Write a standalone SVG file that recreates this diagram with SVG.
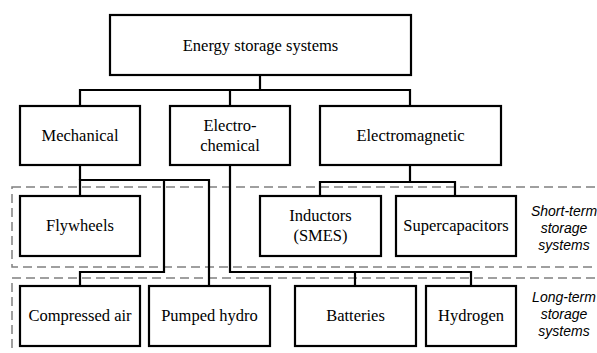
<svg xmlns="http://www.w3.org/2000/svg" width="597" height="353" viewBox="0 0 597 353">
<style>
.box{fill:#fff;stroke:#000;stroke-width:2.2}
.t{font-family:"Liberation Serif","Times New Roman",serif;font-size:16.5px;fill:#000;text-anchor:middle}
.lab{font-family:"Liberation Sans",Arial,sans-serif;font-size:14px;font-style:italic;fill:#000;text-anchor:middle}
.c{fill:none;stroke:#000;stroke-width:2.2}
.dash{fill:none;stroke:#808080;stroke-width:1.5;stroke-dasharray:9 5}
</style>
<rect width="597" height="353" fill="#fff"/>
<g id="regions">
<rect class="dash" x="12" y="187" width="600" height="80"/>
<rect class="dash" x="12" y="278" width="600" height="100"/>
</g>
<g id="connectors">
<path class="c" d="M260 75V90" stroke-width="3"/>
<path class="c" d="M80 106V90H410V106M230 90V106"/>
<path class="c" d="M80 165V180" stroke-width="3"/>
<path class="c" d="M80 196V180H209V286M164 180V272H80V286"/>
<path class="c" d="M230 165V272H471V286M355 272V286"/>
<path class="c" d="M410 165V182M320 196V182H455V196"/>
</g>
<g id="root"><rect class="box" x="110" y="15" width="301" height="60"/><text class="t" x="260.5" y="51">Energy storage systems</text></g>
<g id="mechanical"><rect class="box" x="20" y="106" width="120" height="59"/><text class="t" x="80" y="141">Mechanical</text></g>
<g id="electrochemical"><rect class="box" x="170" y="106" width="120" height="59"/><text class="t" x="230" y="131">Electro-</text><text class="t" x="230" y="151">chemical</text></g>
<g id="electromagnetic"><rect class="box" x="320" y="106" width="181" height="59"/><text class="t" x="410.5" y="141">Electromagnetic</text></g>
<g id="flywheels"><rect class="box" x="20" y="196" width="120" height="60"/><text class="t" x="80" y="231">Flywheels</text></g>
<g id="inductors"><rect class="box" x="260" y="196" width="121" height="60"/><text class="t" x="320.5" y="221">Inductors</text><text class="t" x="320.5" y="241">(SMES)</text></g>
<g id="supercapacitors"><rect class="box" x="396" y="196" width="120" height="60"/><text class="t" x="456" y="231">Supercapacitors</text></g>
<g id="compressed-air"><rect class="box" x="20" y="286" width="120" height="60"/><text class="t" x="80" y="321">Compressed air</text></g>
<g id="pumped-hydro"><rect class="box" x="149" y="286" width="121" height="60"/><text class="t" x="209.5" y="321">Pumped hydro</text></g>
<g id="batteries"><rect class="box" x="295" y="286" width="121" height="60"/><text class="t" x="355.5" y="321">Batteries</text></g>
<g id="hydrogen"><rect class="box" x="426" y="286" width="90" height="60"/><text class="t" x="471" y="321">Hydrogen</text></g>
<g id="labels">
<text class="lab" x="564" y="216">Short-term</text><text class="lab" x="564" y="233">storage</text><text class="lab" x="564" y="250">systems</text>
<text class="lab" x="564" y="302">Long-term</text><text class="lab" x="564" y="319">storage</text><text class="lab" x="564" y="336">systems</text>
</g>
</svg>
